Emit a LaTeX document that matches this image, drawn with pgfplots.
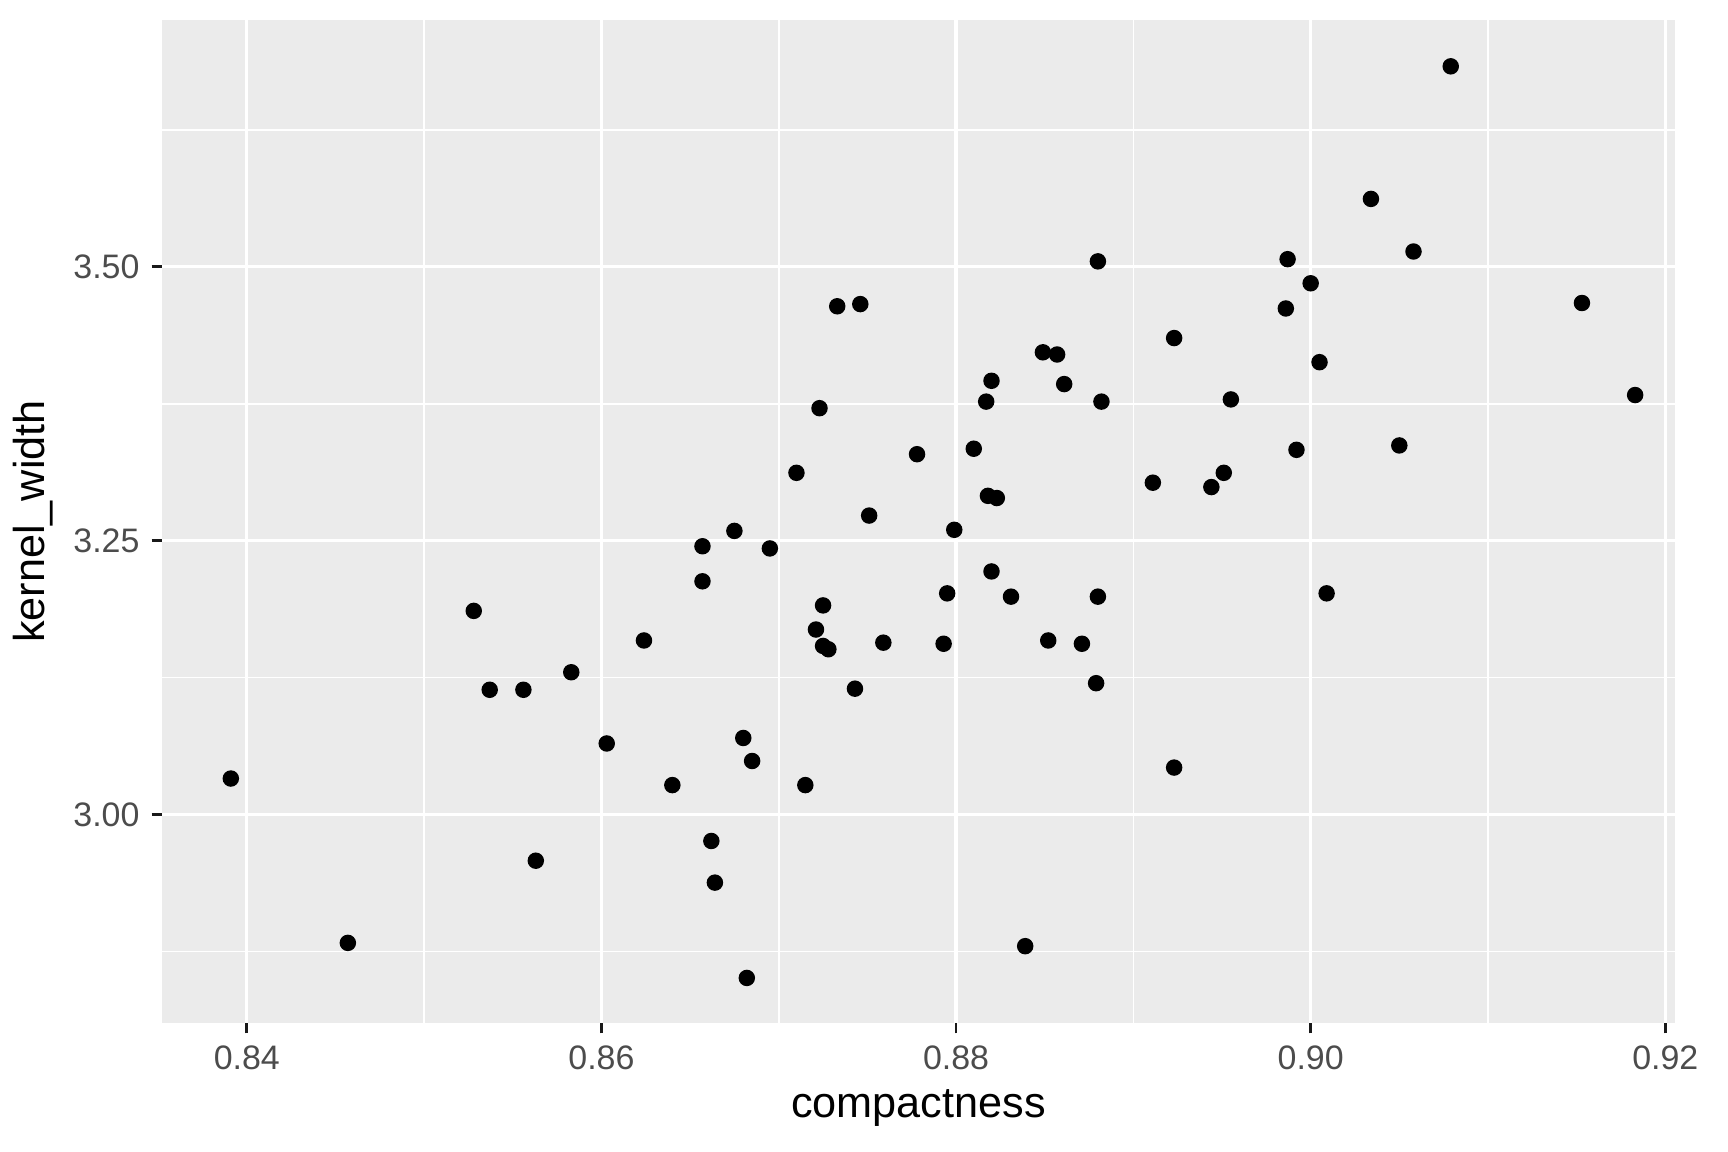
\documentclass[border=0pt]{standalone}
\usepackage{pgfplots}
\pgfplotsset{compat=1.18}
\usepackage{fontspec}
\setmainfont{Liberation Sans}
\definecolor{panel}{HTML}{EBEBEB}
\begin{document}
\begin{tikzpicture}
\begin{axis}[
 scale only axis, width=441.3pt, height=292.5pt,
 xmin=0.83521, xmax=0.92056, ymin=2.8099, ymax=3.7254,
 axis background/.style={fill=panel},
 axis line style={draw=none},
 xtick={0.84,0.86,0.88,0.90,0.92}, ytick={3.00,3.25,3.50},
 minor xtick={0.85,0.87,0.89,0.91}, minor ytick={2.875,3.125,3.375,3.625},
 xticklabels={0.84,0.86,0.88,0.90,0.92}, yticklabels={3.00,3.25,3.50},
 grid=both,
 major grid style={white, line width=0.9pt},
 minor grid style={white, line width=0.45pt},
 tick style={gray!20!black, line width=0.8pt},
 major tick length=3pt, minor tick length=0pt,
 tick align=outside, xtick pos=bottom, ytick pos=left,
 tick label style={font=\fontsize{9.9}{11}\selectfont, text=black!70},
 xlabel={compactness}, ylabel={kernel\_width},
 label style={font=\fontsize{12.6}{14}\selectfont},
 xlabel style={yshift=1pt}, ylabel style={yshift=-1pt},
 clip=false,
]
\addplot[only marks, mark=*, mark size=2.2pt, black] coordinates {
(0.8391,3.033)(0.8457,2.883)(0.8528,3.186)(0.8537,3.114)(0.8556,3.114)(0.8563,2.958)
(0.8583,3.130)(0.8603,3.065)(0.8624,3.159)(0.8640,3.027)(0.8657,3.245)(0.8657,3.213)
(0.8662,2.976)(0.8664,2.938)(0.8675,3.259)(0.8680,3.070)(0.8682,2.851)(0.8685,3.049)
(0.8695,3.243)(0.8710,3.312)(0.8715,3.027)(0.8721,3.169)(0.8723,3.371)(0.8725,3.191)
(0.8725,3.154)(0.8728,3.151)(0.8733,3.464)(0.8743,3.115)(0.8746,3.466)(0.8751,3.273)
(0.8759,3.157)(0.8778,3.329)(0.8793,3.156)(0.8795,3.202)(0.8799,3.260)(0.8810,3.334)
(0.8817,3.377)(0.8818,3.291)(0.8820,3.396)(0.8820,3.222)(0.8823,3.289)(0.8831,3.199)
(0.8839,2.880)(0.8849,3.422)(0.8852,3.159)(0.8857,3.420)(0.8861,3.393)(0.8871,3.156)
(0.8879,3.120)(0.8880,3.505)(0.8880,3.199)(0.8882,3.377)(0.8911,3.303)(0.8923,3.435)
(0.8923,3.043)(0.8944,3.299)(0.8951,3.312)(0.8955,3.379)(0.8986,3.462)(0.8987,3.507)
(0.8992,3.333)(0.9000,3.485)(0.9005,3.413)(0.9009,3.202)(0.9034,3.562)(0.9050,3.337)
(0.9058,3.514)(0.9079,3.683)(0.9153,3.467)(0.9183,3.383)
};
\end{axis}
\path[use as bounding box] ([xshift=-47.2pt,yshift=-37.6pt]current axis.south west) rectangle ([xshift=15.4pt,yshift=5.8pt]current axis.north east);
\end{tikzpicture}
\end{document}
